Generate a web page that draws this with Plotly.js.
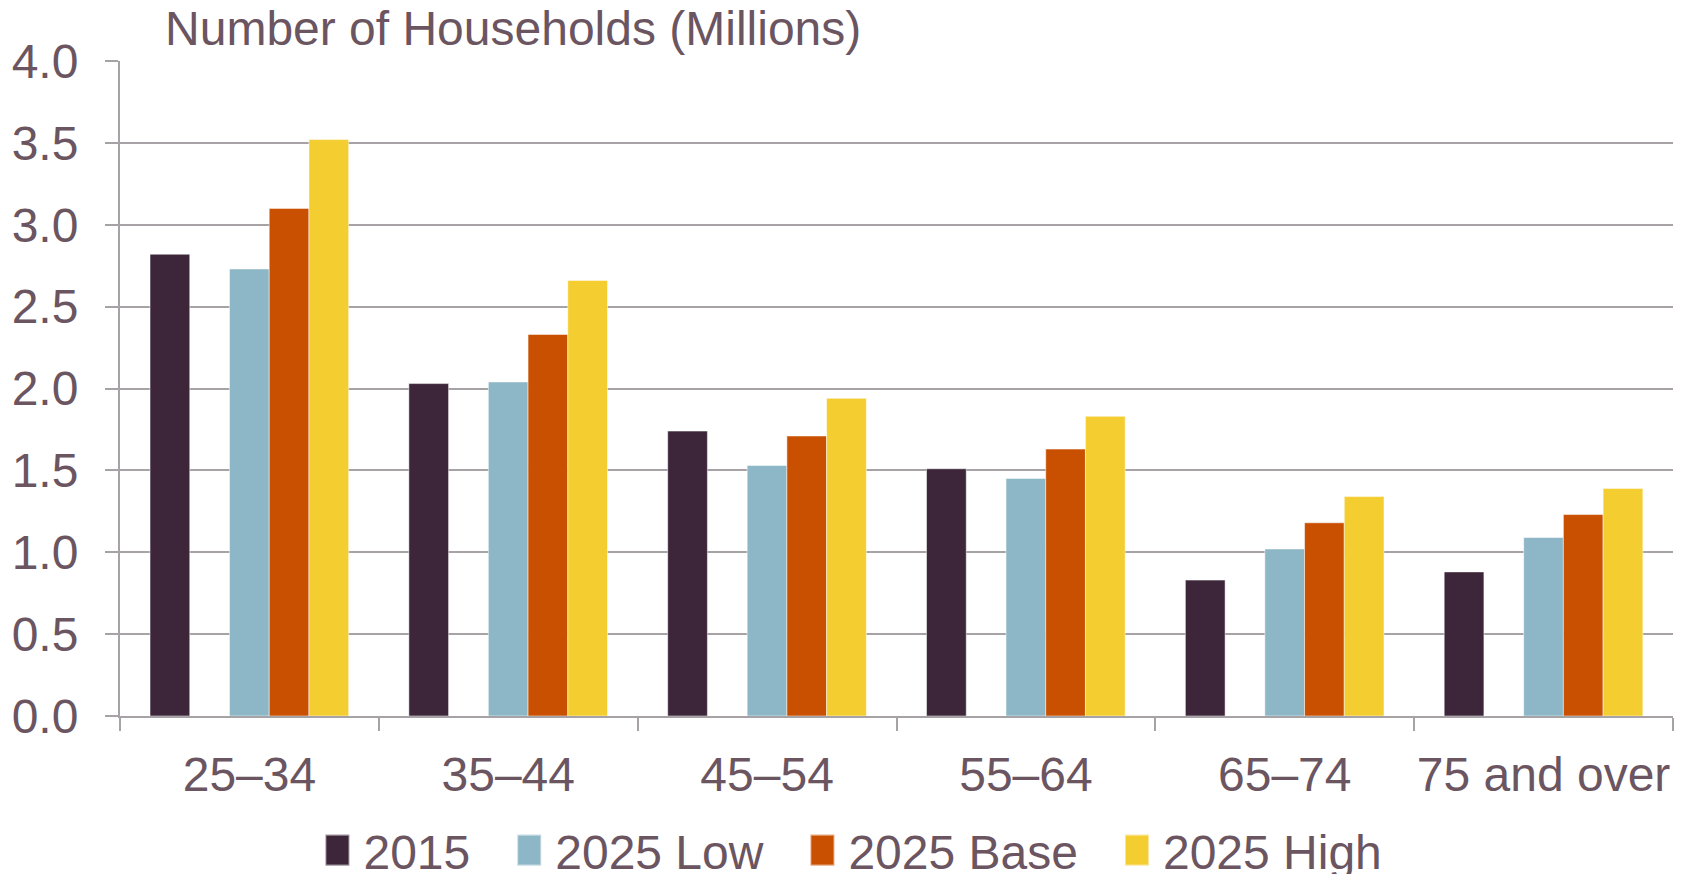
<!DOCTYPE html>
<html>
<head>
<meta charset="utf-8">
<script src="https://cdn.plot.ly/plotly-3.0.1.min.js"></script>
<style>html,body{margin:0;padding:0;background:#fff;}#chart{width:1684px;height:874px;}</style>
</head>
<body>
<div id="chart"></div>
<script>
const categories = ["25–34", "35–44", "45–54", "55–64", "65–74", "75 and over"];
const seriesNames = ["2015", "2025 Low", "2025 Base", "2025 High"];
const values2015 = [2.82, 2.03, 1.74, 1.51, 0.83, 0.88];
const values2025Low = [2.73, 2.04, 1.53, 1.45, 1.02, 1.09];
const values2025Base = [3.10, 2.33, 1.71, 1.63, 1.18, 1.23];
const values2025High = [3.52, 2.66, 1.94, 1.83, 1.34, 1.39];
const yTickVals = [0, 0.5, 1, 1.5, 2, 2.5, 3, 3.5, 4];

const colors = ["#3D2639", "#8DB7C6", "#C95000", "#F4CD30"];
const textColor = "#6B5561";
const gridColor = "#A7A2A5";
const font = "Liberation Sans, Arial, sans-serif";
const FS = 48;

const W = 0.1535;
const start = -0.384;
const slots = [0, 2, 3, 4];
const allValues = [values2015, values2025Low, values2025Base, values2025High];
const pad = "\u00a0\u00a0\u00a0";

const traces = allValues.map((vals, i) => ({
  type: "bar",
  name: seriesNames[i] + (i < 3 ? pad : ""),
  x: categories,
  y: vals,
  width: W,
  offset: start + slots[i] * W,
  marker: {color: colors[i], line: {color: "rgba(255,255,255,0.5)", width: 1}},
  hoverinfo: "x+y+name"
}));

const layout = {
  width: 1684,
  height: 874,
  margin: {l: 120, r: 11, t: 61, b: 158},
  paper_bgcolor: "#fff",
  plot_bgcolor: "#fff",
  barmode: "group",
  font: {family: font, color: textColor, size: FS},
  title: {
    text: "Number of Households (Millions)",
    font: {family: font, size: FS, color: textColor},
    xref: "container", x: 0.098, xanchor: "left",
    yref: "container", y: 0.968, yanchor: "middle"
  },
  xaxis: {
    type: "category",
    tickson: "boundaries",
    tickangle: 0,
    ticks: "outside",
    ticklen: 13,
    tickwidth: 2,
    tickcolor: gridColor,
    showline: true,
    linecolor: gridColor,
    linewidth: 2,
    showgrid: false,
    tickfont: {family: font, size: FS, color: textColor},
    ticklabelstandoff: 15,
    automargin: false,
    fixedrange: true
  },
  yaxis: {
    range: [0, 4],
    tickvals: yTickVals,
    tickformat: ".1f",
    ticks: "outside",
    ticklen: 13,
    tickwidth: 2,
    tickcolor: gridColor,
    showgrid: true,
    gridcolor: gridColor,
    gridwidth: 2,
    showline: true,
    linecolor: gridColor,
    linewidth: 2,
    zeroline: false,
    tickfont: {family: font, size: FS, color: textColor},
    ticklabelstandoff: 17,
    automargin: false,
    fixedrange: true
  },
  showlegend: true,
  legend: {
    orientation: "h",
    xref: "paper",
    x: 0.131, xanchor: "left",
    yref: "container",
    y: 0.027, yanchor: "middle",
    font: {family: font, size: FS, color: textColor},
    itemwidth: 30,
    tracegroupgap: 0,
    bgcolor: "rgba(0,0,0,0)"
  }
};

Plotly.newPlot("chart", traces, layout, {displayModeBar: false, staticPlot: true}).then(() => {
  document.querySelectorAll(".legendpoints path").forEach(p => {
    p.setAttribute("transform", "translate(14,0) scale(2,2.6)");
  });
});
</script>
</body>
</html>
